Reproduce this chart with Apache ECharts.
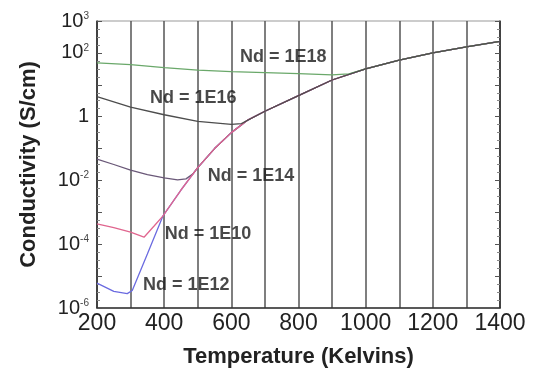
<!DOCTYPE html>
<html>
<head>
<meta charset="utf-8">
<script src="https://cdn.jsdelivr.net/npm/echarts@6/dist/echarts.min.js"></script>
<style>
html,body{margin:0;padding:0;background:#fff;}
#chart{width:534px;height:373px;}
</style>
</head>
<body>
<div id="chart"></div>
<script>
// Temperatures (K) and log10 of conductivity (S/cm)
var tempNd12 = [200, 250, 290, 305, 350, 396, 450, 500, 550, 600, 650, 700, 800, 900, 1000, 1100, 1200, 1300, 1400];
var logNd12  = [-5.22, -5.48, -5.55, -5.45, -4.31, -3.12, -2.3, -1.6, -1.0, -0.5, -0.1, 0.17, 0.66, 1.15, 1.5, 1.77, 2.0, 2.19, 2.36];

var tempNd14 = [200, 250, 300, 350, 400, 440, 465, 485, 500, 550, 600, 650, 700, 800, 900, 1000, 1100, 1200, 1300, 1400];
var logNd14  = [-1.33, -1.5, -1.68, -1.82, -1.92, -1.98, -1.95, -1.8, -1.6, -1.0, -0.5, -0.1, 0.17, 0.66, 1.15, 1.5, 1.77, 2.0, 2.19, 2.36];

var tempNd10 = [200, 250, 300, 340, 370, 396, 450, 500, 550, 600, 650, 700, 800, 900, 1000, 1100, 1200, 1300, 1400];
var logNd10  = [-3.36, -3.48, -3.62, -3.78, -3.43, -3.12, -2.3, -1.6, -1.0, -0.5, -0.1, 0.17, 0.66, 1.15, 1.5, 1.77, 2.0, 2.19, 2.36];

var tempNd18 = [200, 300, 400, 500, 600, 700, 800, 900, 950, 1000, 1100, 1200, 1300, 1400];
var logNd18  = [1.69, 1.63, 1.54, 1.46, 1.41, 1.38, 1.35, 1.31, 1.34, 1.5, 1.77, 2.0, 2.19, 2.36];

var tempNd16 = [200, 300, 400, 500, 600, 630, 660, 700, 800, 900, 1000, 1100, 1200, 1300, 1400];
var logNd16  = [0.63, 0.30, 0.06, -0.15, -0.24, -0.22, -0.05, 0.17, 0.66, 1.15, 1.5, 1.77, 2.0, 2.19, 2.36];

// Curve labels: text, anchor temperature, anchor log10 value
var labelTexts = ['Nd = 1E18', 'Nd = 1E16', 'Nd = 1E14', 'Nd = 1E10', 'Nd = 1E12'];
var labelTemps = [626, 358, 530, 402, 337];
var labelLogs  = [1.88, 0.60, -1.86, -3.67, -5.29];

var yTickLabels = {'3': '{b|10}{s|3}', '2': '{b|10}{s|2}', '0': '{b|1}', '-2': '{b|10}{s|-2}', '-4': '{b|10}{s|-4}', '-6': '{b|10}{s|-6}'};

function pairs(t, v) { return t.map(function (x, i) { return [x, v[i]]; }); }

var chart = echarts.init(document.getElementById('chart'));

function lineSeries(name, t, v, color) {
  return {
    name: name, type: 'line', data: pairs(t, v), showSymbol: false, symbol: 'none',
    lineStyle: {color: color, width: 1.3}, animation: false
  };
}

var labelSeries = {
  type: 'scatter', symbolSize: 0, silent: true, animation: false,
  data: labelTexts.map(function (s, i) { return {value: [labelTemps[i], labelLogs[i]], name: s}; }),
  label: {
    show: true, position: 'right', distance: 0, formatter: '{b}',
    fontFamily: 'Liberation Sans, Arial, sans-serif', fontWeight: 'bold', fontSize: 18, color: '#1a1a1a'
  },
  z: 10
};

chart.setOption({
  backgroundColor: '#fff',
  animation: false,
  grid: {left: 97, right: 34, top: 21, bottom: 63, show: true, borderColor: '#999', borderWidth: 1},
  xAxis: {
    type: 'value', min: 200, max: 1400, interval: 100,
    name: 'Temperature (Kelvins)', nameLocation: 'middle', nameGap: 38,
    nameTextStyle: {fontFamily: 'Liberation Sans, Arial, sans-serif', fontWeight: 'bold', fontSize: 22, color: '#222'},
    axisLine: {show: true, onZero: false, lineStyle: {color: '#333', width: 1.5}},
    axisTick: {show: false},
    axisLabel: {
      margin: 4, fontFamily: 'Liberation Sans, Arial, sans-serif', fontSize: 23, color: '#222',
      formatter: function (v) { return v % 200 === 0 ? String(v) : ''; }
    },
    splitLine: {show: true, lineStyle: {color: '#555', width: 1.5}}
  },
  yAxis: [{
    type: 'value', min: -6, max: 3, interval: 1,
    name: 'Conductivity (S/cm)', nameLocation: 'middle', nameGap: 57, nameRotate: 90,
    nameTextStyle: {fontFamily: 'Liberation Sans, Arial, sans-serif', fontWeight: 'bold', fontSize: 22, color: '#222'},
    axisLine: {show: true, onZero: false, lineStyle: {color: '#333', width: 1.5}},
    axisTick: {show: true, inside: true, length: 5, lineStyle: {color: '#555'}},
    minorTick: {show: true, splitNumber: 4, length: 3, lineStyle: {color: '#888'}},
    splitLine: {show: false},
    axisLabel: {
      margin: 8, color: '#222',
      formatter: function (v) { var k = String(Math.round(v)); return yTickLabels[k] || ''; },
      rich: {
        b: {fontFamily: 'Liberation Sans, Arial, sans-serif', fontSize: 20, color: '#222'},
        s: {fontFamily: 'Liberation Sans, Arial, sans-serif', fontSize: 10, color: '#444', verticalAlign: 'top', padding: [0, 0, 10, 0]}
      }
    }
  }, {
    type: 'value', min: -6, max: 3, interval: 1, position: 'right',
    axisLine: {show: true, onZero: false, lineStyle: {color: '#333', width: 1.5}},
    axisTick: {show: true, inside: true, length: 5, lineStyle: {color: '#555'}},
    minorTick: {show: true, splitNumber: 4, length: 3, lineStyle: {color: '#888'}},
    axisLabel: {show: false}, splitLine: {show: false}
  }],
  series: [
    lineSeries('Nd = 1E12', tempNd12, logNd12, '#6b6be0'),
    lineSeries('Nd = 1E14', tempNd14, logNd14, '#6a5878'),
    lineSeries('Nd = 1E10', tempNd10, logNd10, '#e0668f'),
    lineSeries('Nd = 1E18', tempNd18, logNd18, '#6aa86a'),
    lineSeries('Nd = 1E16', tempNd16, logNd16, '#4d4d4d'),
    labelSeries
  ]
});
</script>
</body>
</html>
